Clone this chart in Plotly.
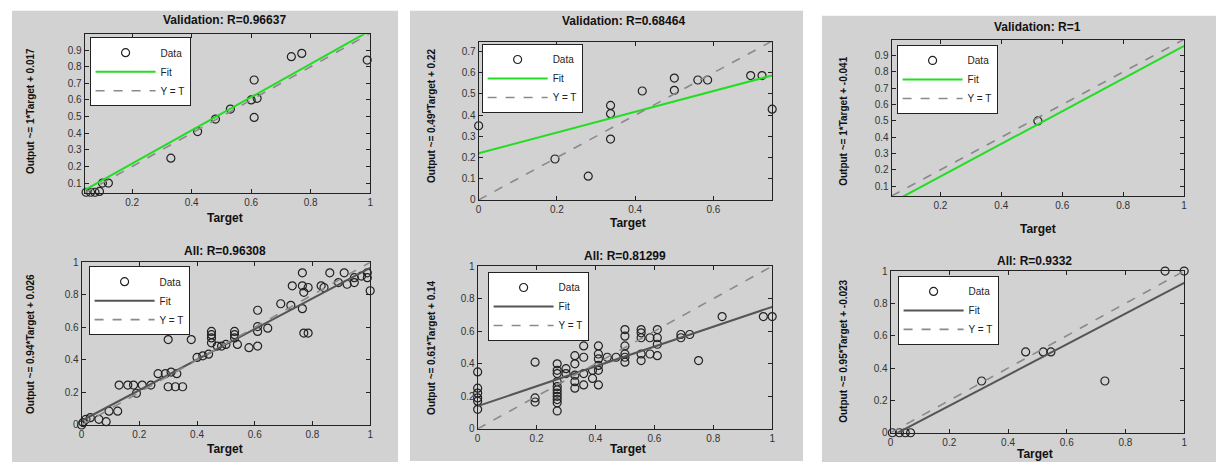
import plotly.graph_objects as go

W, H = 1219, 468

# ---------------- data ----------------
titles = ["Validation: R=0.96637", "All: R=0.96308",
          "Validation: R=0.68464", "All: R=0.81299",
          "Validation: R=1", "All: R=0.9332"]
ylabels = ["Output ~= 1*Target + 0.017", "Output ~= 0.94*Target + 0.026",
           "Output ~= 0.49*Target + 0.22", "Output ~= 0.61*Target + 0.14",
           "Output ~= 1*Target + -0.041", "Output ~= 0.95*Target + -0.023"]
slopes = [1.0, 0.94, 0.49, 0.61, 1.0, 0.95]
intercepts = [0.017, 0.026, 0.22, 0.14, -0.041, -0.023]
x_lo = [0.04, 0.0, 0.0, 0.0, 0.04, 0.0]
x_hi = [1.0, 1.0, 0.75, 1.0, 1.0, 1.0]
y_lo = [0.04, 0.0, 0.0, 0.0, 0.04, 0.0]
y_hi = [0.995, 1.0, 0.745, 1.0, 0.995, 1.0]
x_dtick = [0.2, 0.2, 0.2, 0.2, 0.2, 0.2]
y_dtick = [0.1, 0.2, 0.1, 0.2, 0.1, 0.2]

# Panel 1 - validation
p1v_t = [0.045, 0.06, 0.075, 0.09, 0.10, 0.12, 0.33, 0.42, 0.48, 0.53, 0.60,
         0.62, 0.61, 0.61, 0.735, 0.77, 0.99]
p1v_o = [0.045, 0.045, 0.045, 0.05, 0.10, 0.10, 0.25, 0.41, 0.485, 0.545, 0.60,
         0.61, 0.72, 0.495, 0.86, 0.88, 0.84]
# Panel 1 - all
p1a_t = [0.0, 0.005, 0.015, 0.03, 0.06, 0.085, 0.095, 0.125, 0.13, 0.16, 0.18,
         0.21, 0.24, 0.19, 0.265, 0.29, 0.31, 0.33, 0.30, 0.325, 0.35, 0.30,
         0.38, 0.40, 0.42, 0.44, 0.45, 0.45, 0.45, 0.45, 0.47, 0.485, 0.50,
         0.53, 0.53, 0.53, 0.54, 0.58, 0.61, 0.61, 0.61, 0.61, 0.645, 0.69,
         0.725, 0.765, 0.77, 0.785, 0.73, 0.765, 0.77, 0.765, 0.785, 0.83,
         0.84, 0.86, 0.89, 0.92, 0.945, 0.91, 0.945, 0.97, 0.99, 1.0, 0.99]
p1a_o = [0.0, 0.015, 0.035, 0.045, 0.035, 0.02, 0.085, 0.085, 0.245, 0.245,
         0.245, 0.245, 0.245, 0.195, 0.315, 0.315, 0.325, 0.315, 0.235, 0.235,
         0.235, 0.525, 0.525, 0.415, 0.425, 0.435, 0.575, 0.555, 0.535, 0.505,
         0.485, 0.485, 0.495, 0.575, 0.555, 0.535, 0.495, 0.475, 0.485, 0.705,
         0.605, 0.575, 0.595, 0.745, 0.735, 0.715, 0.565, 0.565, 0.855, 0.855,
         0.815, 0.935, 0.845, 0.855, 0.845, 0.935, 0.875, 0.865, 0.875, 0.935,
         0.905, 0.915, 0.905, 0.825, 0.935]
# Panel 2 - validation
p2v_t = [0.0, 0.195, 0.28, 0.337, 0.337, 0.337, 0.418, 0.50, 0.50, 0.56, 0.585,
         0.695, 0.724, 0.75]
p2v_o = [0.35, 0.193, 0.112, 0.446, 0.407, 0.287, 0.514, 0.575, 0.517, 0.566,
         0.566, 0.587, 0.587, 0.428]
# Panel 2 - all
p2a_t = [0.0, 0.0, 0.0, 0.0, 0.0, 0.0,
         0.195, 0.195, 0.195,
         0.27, 0.27, 0.27, 0.27, 0.27, 0.27, 0.27, 0.27, 0.27, 0.27, 0.27,
         0.30, 0.30,
         0.33, 0.33, 0.33, 0.33, 0.33,
         0.36, 0.36, 0.36, 0.36,
         0.39, 0.39,
         0.41, 0.41, 0.41, 0.41, 0.41, 0.41,
         0.44, 0.47,
         0.50, 0.50, 0.50, 0.50, 0.50, 0.50,
         0.555, 0.555, 0.555, 0.555, 0.555,
         0.585, 0.585,
         0.61, 0.61, 0.61, 0.61,
         0.69, 0.69, 0.72, 0.75, 0.83, 0.97, 1.0]
p2a_o = [0.35, 0.25, 0.22, 0.19, 0.17, 0.12,
         0.41, 0.19, 0.165,
         0.40, 0.36, 0.34, 0.29, 0.26, 0.24, 0.22, 0.20, 0.18, 0.16, 0.11,
         0.37, 0.34,
         0.45, 0.40, 0.33, 0.29, 0.25,
         0.51, 0.44, 0.34, 0.27,
         0.36, 0.31,
         0.51, 0.46, 0.43, 0.39, 0.36, 0.27,
         0.44, 0.44,
         0.61, 0.57, 0.51, 0.46, 0.44, 0.41,
         0.61, 0.59, 0.56, 0.46, 0.42,
         0.56, 0.46,
         0.61, 0.56, 0.52, 0.45,
         0.56, 0.58, 0.58, 0.42, 0.69, 0.69, 0.69]
# Panel 3 - validation
p3v_t = [0.52, 1.0]
p3v_o = [0.50, 1.0]
# Panel 3 - all
p3a_t = [0.006, 0.03, 0.05, 0.068, 0.31, 0.46, 0.52, 0.546, 0.73, 0.935, 1.0]
p3a_o = [0.0, 0.0, 0.0, 0.0, 0.32, 0.50, 0.50, 0.50, 0.32, 1.0, 1.0]

targets = [p1v_t, p1a_t, p2v_t, p2a_t, p3v_t, p3a_t]
outputs = [p1v_o, p1a_o, p2v_o, p2a_o, p3v_o, p3a_o]
fit_colors = ["#22dd22", "#555555", "#22dd22", "#555555", "#22dd22", "#555555"]

# ---------------- layout geometry (pixels) ----------------
plot_boxes = [(82, 369, 29, 192), (79, 369, 263, 430),
              (478, 773, 37, 199), (477, 773, 267, 434),
              (893, 1187, 35, 195), (892, 1187, 272, 438)]
legend_pos = [(87, 32), (86, 267), (481, 39), (487, 273), (898, 40), (899, 277)]
title_pos = [(223, 14), (223, 251), (624, 15), (625, 257), (1040, 22), (1037, 262)]
ylab_pos = [(27, 108), (27, 347), (430, 113), (430, 351), (845, 118), (845, 354)]
xlab_pos = [(223, 218), (223, 455), (628, 223), (628, 455), (1040, 229), (1037, 460)]
panels = [(9, 397, 5, 468), (409, 804, 5, 467), (823, 1219, 10, 468)]

def px(x):
    return x / W

def py(y):
    return 1 - y / H

fig = go.Figure()
annotations = []
shapes = []
for (x0, x1, y0, y1) in panels:
    shapes.append(dict(type="rect", xref="paper", yref="paper", x0=px(x0), x1=px(x1),
                       y0=py(y1), y1=py(y0), fillcolor="#d2d2d2", line=dict(width=0),
                       layer="below"))

font_fam = "Liberation Sans, Arial, sans-serif"
for i in range(6):
    n = "" if i == 0 else str(i + 1)
    xa, ya = "x" + n, "y" + n
    lg = "legend" if i == 0 else "legend" + str(i + 1)
    fig.add_trace(go.Scatter(x=targets[i], y=outputs[i], mode="markers", name="Data",
                             xaxis=xa, yaxis=ya, legend=lg, cliponaxis=False,
                             marker=dict(symbol="circle-open", size=8, color="#222222",
                                         line=dict(width=1.2, color="#222222"))))
    fx = [x_lo[i], x_hi[i]]
    fy = [slopes[i] * v + intercepts[i] for v in fx]
    fig.add_trace(go.Scatter(x=fx, y=fy, mode="lines", name="Fit", xaxis=xa, yaxis=ya,
                             legend=lg, line=dict(color=fit_colors[i], width=2)))
    fig.add_trace(go.Scatter(x=fx, y=fx, mode="lines", name="Y = T", xaxis=xa, yaxis=ya,
                             legend=lg, line=dict(color="#8a8a8a", width=1.6, dash="dash")))
    bx0, bx1, by0, by1 = plot_boxes[i]
    axcommon = dict(showline=True, linecolor="#222222", linewidth=1, mirror="ticks",
                    ticks="inside", ticklen=4, tickcolor="#222222", showgrid=False,
                    zeroline=False, tick0=0, tickfont=dict(size=10, color="#333333",
                                                           family=font_fam))
    fig.layout["xaxis" + n] = dict(domain=[px(bx0), px(bx1)], range=[x_lo[i], x_hi[i]],
                                   dtick=x_dtick[i], anchor=ya, **axcommon)
    fig.layout["yaxis" + n] = dict(domain=[py(by1), py(by0)], range=[y_lo[i], y_hi[i]],
                                   dtick=y_dtick[i], anchor=xa, **axcommon)
    lx, ly = legend_pos[i]
    fig.layout[lg] = dict(x=px(lx), y=py(ly), xanchor="left", yanchor="top",
                          bgcolor="white", bordercolor="#222222", borderwidth=1,
                          font=dict(size=10, color="#222222", family=font_fam),
                          itemwidth=60, tracegroupgap=0)
    tx, ty = title_pos[i]
    annotations.append(dict(text="<b>%s</b>" % titles[i], x=px(tx), y=py(ty),
                            xref="paper", yref="paper", showarrow=False,
                            xanchor="center", yanchor="middle",
                            font=dict(size=12, color="#111111", family=font_fam)))
    yx, yy = ylab_pos[i]
    annotations.append(dict(text="<b>%s</b>" % ylabels[i], x=px(yx), y=py(yy),
                            xref="paper", yref="paper", showarrow=False, textangle=-90,
                            xanchor="center", yanchor="middle",
                            font=dict(size=10, color="#111111", family=font_fam)))
    xx, xy = xlab_pos[i]
    annotations.append(dict(text="<b>Target</b>", x=px(xx), y=py(xy),
                            xref="paper", yref="paper", showarrow=False,
                            xanchor="center", yanchor="middle",
                            font=dict(size=12, color="#111111", family=font_fam)))

fig.update_layout(width=W, height=H, margin=dict(l=0, r=0, t=0, b=0),
                  paper_bgcolor="white", plot_bgcolor="white", showlegend=True,
                  annotations=annotations, shapes=shapes)
fig.write_html("out.html", config={"displayModeBar": False},
               post_script="document.body.style.margin='0px';document.body.style.overflow='hidden';")
